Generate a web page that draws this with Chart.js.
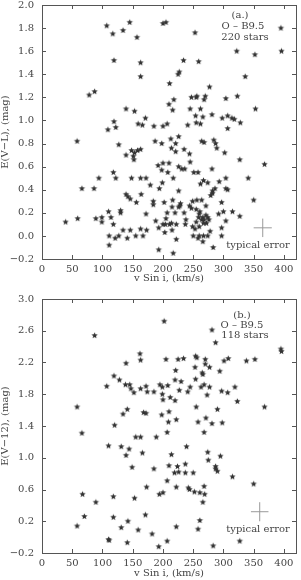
<!DOCTYPE html>
<html>
<head>
<meta charset="utf-8">
<script src="https://cdn.jsdelivr.net/npm/chart.js@4/dist/chart.umd.min.js"></script>
<style>
  html, body { margin: 0; padding: 0; background: #fff; }
  canvas { display: block; }
</style>
</head>
<body>
<canvas id="top" width="301" height="285"></canvas>
<canvas id="bot" width="301" height="295"></canvas>
<script>
// panel (a.): E(V-L) against v sin i
const topV = [107,117,134,145,157,200,205,253,395,396,322,352,119,163,234,259,163,227,225,336,
  211,277,78,87,247,255,256,270,268,304,323,218,210,216,139,153,353,245,262,254,
  266,281,307,314,298,318,171,119,109,122,159,166,185,200,207,241,255,262,307,328,
  58,187,213,226,127,198,221,264,268,284,287,
  214,221,289,302,235,244,148,153,158,163,151,152,139,327,368,192,200,210,198,208,
  226,231,236,245,251,258,281,217,172,148,163,122,118,94,66,86,199,194,179,262,
  267,274,293,304,341,226,282,286,304,307,139,142,146,164,184,202,216,249,256,264,
  279,282,297,350,156,110,130,130,172,184,229,228,226,215,207,220,235,244,247,255,
  261,271,271,292,300,315,327,114,99,89,59,39,99,118,188,205,200,204,211,214,
  222,237,238,255,259,260,264,266,268,272,274,276,267,260,253,249,304,297,193,203,
  215,134,146,163,173,155,167,127,111,121,141,222,250,258,260,267,274,278,266,297,
  111,193,217,283];
const topE = [1.82,1.75,1.78,1.85,1.72,1.84,1.85,1.76,1.80,1.60,1.60,1.57,1.52,1.50,1.52,1.51,1.38,1.42,1.40,1.38,
  1.32,1.29,1.22,1.25,1.20,1.20,1.21,1.21,1.18,1.19,1.21,1.18,1.14,1.09,1.10,1.08,1.10,1.10,1.10,1.04,
  1.03,1.05,1.04,1.02,1.02,1.01,1.02,0.99,0.92,0.94,0.97,0.96,0.95,0.95,0.97,0.96,0.98,0.97,0.93,0.98,
  0.82,0.82,0.84,0.86,0.79,0.80,0.80,0.82,0.81,0.83,0.80,
  0.76,0.73,0.76,0.72,0.75,0.71,0.74,0.72,0.74,0.75,0.69,0.66,0.70,0.66,0.62,0.61,0.63,0.63,0.57,0.55,
  0.60,0.58,0.58,0.64,0.55,0.55,0.58,0.50,0.50,0.50,0.50,0.50,0.55,0.50,0.41,0.41,0.46,0.41,0.44,0.45,
  0.48,0.46,0.47,0.50,0.50,0.39,0.39,0.41,0.41,0.40,0.36,0.34,0.32,0.36,0.30,0.29,0.31,0.30,0.31,0.31,
  0.35,0.37,0.29,0.31,0.29,0.21,0.22,0.20,0.19,0.27,0.28,0.26,0.25,0.25,0.20,0.20,0.20,0.26,0.24,0.23,
  0.21,0.18,0.26,0.19,0.21,0.21,0.17,0.16,0.16,0.15,0.15,0.12,0.12,0.10,0.13,0.15,0.10,0.10,0.10,0.11,
  0.10,0.10,0.14,0.12,0.16,0.19,0.14,0.16,0.14,0.11,0.16,0.14,0.11,0.08,0.06,0.08,0.13,0.07,0.07,0.03,
  0.05,0.05,0.05,0.06,0.05,0.00,0.00,0.00,0.00,-0.02,-0.02,-0.03,0.00,-0.02,0.00,0.00,0.00,0.04,-0.05,0.00,
  -0.08,-0.12,-0.15,-0.10];

// panel (b.): E(V-12) against v sin i
const botV = [202,87,281,287,395,396,162,163,139,205,225,234,254,256,270,270,277,301,308,338,
  352,253,221,265,266,294,119,128,107,138,145,147,152,163,172,174,185,195,199,199,
  200,208,212,220,220,230,227,241,245,254,263,268,277,273,297,307,319,323,368,58,
  255,141,134,168,172,198,210,209,222,258,271,281,290,298,120,
  66,207,268,155,163,189,110,131,144,239,139,166,214,274,275,295,149,185,210,224,
  237,219,226,237,250,287,287,290,315,350,207,173,222,242,244,252,261,268,269,200,
  194,67,118,153,89,266,70,118,171,142,261,58,131,159,222,258,182,110,111,141,
  207,193,283,327];
const botE = [2.72,2.54,2.61,2.45,2.37,2.34,2.31,2.23,2.19,2.24,2.24,2.25,2.28,2.26,2.24,2.18,2.14,2.22,2.25,2.22,
  2.24,2.14,2.10,2.07,2.05,2.09,2.03,1.98,1.90,1.92,1.92,1.87,1.82,1.87,1.90,1.83,1.83,1.92,1.89,1.80,
  1.73,1.91,1.76,1.98,1.72,1.96,1.85,1.83,1.89,1.99,1.89,1.92,1.89,1.79,1.84,1.82,1.89,1.71,1.64,1.64,
  1.64,1.61,1.55,1.57,1.56,1.54,1.58,1.45,1.48,1.45,1.50,1.43,1.61,1.44,1.41,
  1.31,1.32,1.32,1.26,1.26,1.26,1.15,1.14,1.11,1.14,1.03,1.06,1.04,1.07,0.97,1.02,0.88,0.86,0.90,0.89,
  0.92,0.81,0.82,0.81,0.81,0.89,0.86,0.83,0.76,0.67,0.71,0.63,0.63,0.62,0.60,0.57,0.56,0.64,0.54,0.56,
  0.54,0.54,0.51,0.49,0.44,0.44,0.26,0.25,0.28,0.20,0.21,0.14,0.12,0.09,0.13,0.10,0.04,-0.03,-0.04,-0.07,
  -0.05,-0.12,-0.11,-0.05];

const xTicks = [0, 50, 100, 150, 200, 250, 300, 350, 400];
const topYTicks = [-0.2, 0, 0.2, 0.4, 0.6, 0.8, 1.0, 1.2, 1.4, 1.6, 1.8, 2.0];
const botYTicks = [-0.2, 0.2, 0.6, 1.0, 1.4, 1.8, 2.2, 2.6, 3.0];

// typical error crosses: centre and half widths
const topErr = { v: 365, e: 0.07, dv: 15, de: 0.08 };
const botErr = { v: 360, e: 0.32, dv: 14.5, de: 0.12 };

const topNotes = ['(a.)', 'O \u2013 B9.5', '220 stars'];
const botNotes = ['(b.)', 'O \u2013 B9.5', '118 stars'];

const FONT = 'DejaVu Serif';
const INK = '#444';

function makeStar(r, color) {
  const s = Math.ceil(r * 2) + 2;
  const c = document.createElement('canvas');
  c.width = s; c.height = s;
  const g = c.getContext('2d');
  g.fillStyle = color;
  g.beginPath();
  for (let i = 0; i < 10; i++) {
    const rad = i % 2 ? r * 0.45 : r;
    const a = -Math.PI / 2 + i * Math.PI / 5;
    g.lineTo(s / 2 + rad * Math.cos(a), s / 2 + rad * Math.sin(a));
  }
  g.closePath();
  g.fill();
  return c;
}
const star = makeStar(3.3, '#333');

const fmt = (v) => v.toFixed(1).replace('-', '\u2212');

// frame with inward ticks, plus the text notes
const framePlugin = {
  id: 'frame',
  beforeDatasetsDraw(chart, args, opts) {
    const { ctx, chartArea: a, scales } = chart;
    ctx.save();
    ctx.strokeStyle = '#555';
    ctx.lineWidth = 1;
    ctx.strokeRect(a.left + 0.5, a.top + 0.5, a.right - a.left, a.bottom - a.top);
    ctx.beginPath();
    scales.x.ticks.forEach(t => {
      const px = Math.round(scales.x.getPixelForValue(t.value)) + 0.5;
      ctx.moveTo(px, a.bottom); ctx.lineTo(px, a.bottom - 4);
      ctx.moveTo(px, a.top); ctx.lineTo(px, a.top + 4);
    });
    scales.y.ticks.forEach(t => {
      const py = Math.round(scales.y.getPixelForValue(t.value)) + 0.5;
      ctx.moveTo(a.left, py); ctx.lineTo(a.left + 4, py);
      ctx.moveTo(a.right, py); ctx.lineTo(a.right - 4, py);
    });
    ctx.stroke();
    ctx.restore();
  },
  afterDraw(chart, args, opts) {
    const ctx = chart.ctx;
    ctx.save();
    ctx.font = '10px ' + FONT;
    ctx.fillStyle = INK;
    ctx.textAlign = 'center';
    ctx.textBaseline = 'middle';
    opts.notes.forEach((s, i) => ctx.fillText(s, opts.noteX[i], opts.noteY[i]));
    ctx.fillText('typical error', opts.errX, opts.errY);
    ctx.restore();
  }
};

function makeChart(id, vs, es, yTicks, err, yTitle, padTop, xHeight, notes, noteX, noteY, errY) {
  const pts = vs.map((v, i) => ({ x: v, y: es[i] }));
  return new Chart(document.getElementById(id), {
    type: 'scatter',
    data: {
      datasets: [
        { data: pts, pointStyle: star, pointRadius: 4 },
        { data: [{ x: err.v - err.dv, y: err.e }, { x: err.v + err.dv, y: err.e }],
          showLine: true, borderColor: '#999', borderWidth: 1, pointRadius: 0 },
        { data: [{ x: err.v, y: err.e - err.de }, { x: err.v, y: err.e + err.de }],
          showLine: true, borderColor: '#999', borderWidth: 1, pointRadius: 0 }
      ]
    },
    options: {
      responsive: false,
      animation: false,
      devicePixelRatio: 1,
      layout: { padding: { top: padTop, right: 4, left: 0, bottom: 0 } },
      plugins: {
        legend: { display: false },
        tooltip: { enabled: false },
        frame: { notes: notes, noteX: noteX, noteY: noteY, errX: 258, errY: errY }
      },
      scales: {
        x: {
          type: 'linear', min: 0, max: 420,
          afterBuildTicks: (s) => { s.ticks = xTicks.map(v => ({ value: v })); },
          afterFit: (s) => { s.height = xHeight; s.paddingLeft = 0; s.paddingRight = 0; },
          grid: { display: false, drawTicks: false },
          border: { display: false },
          ticks: { padding: 4, color: INK, font: { family: FONT, size: 10 }, maxRotation: 0 },
          title: { display: true, text: 'v Sin i, (km/s)', color: INK,
                   font: { family: FONT, size: 10 }, padding: { top: 0, bottom: 1 } }
        },
        y: {
          type: 'linear', min: yTicks[0], max: yTicks[yTicks.length - 1],
          afterBuildTicks: (s) => { s.ticks = yTicks.map(v => ({ value: v })); },
          afterFit: (s) => { s.width = 42; s.paddingTop = 0; s.paddingBottom = 0; },
          grid: { display: false, drawTicks: false },
          border: { display: false },
          ticks: { padding: 8, color: INK, font: { family: FONT, size: 10 }, callback: (v) => fmt(v) },
          title: { display: true, text: yTitle, color: INK,
                   font: { family: FONT, size: 10, lineHeight: 1 }, padding: 0 }
        }
      }
    },
    plugins: [framePlugin]
  });
}

makeChart('top', topV, topE, topYTicks, topErr, 'E(V\u2212L), (mag)', 4, 26,
  topNotes, [240, 243, 245], [15, 26, 37], 245);
makeChart('bot', botV, botE, botYTicks, botErr, 'E(V\u221212), (mag)', 14, 27,
  botNotes, [242, 242, 245], [30, 40, 50], 244);
</script>
</body>
</html>
